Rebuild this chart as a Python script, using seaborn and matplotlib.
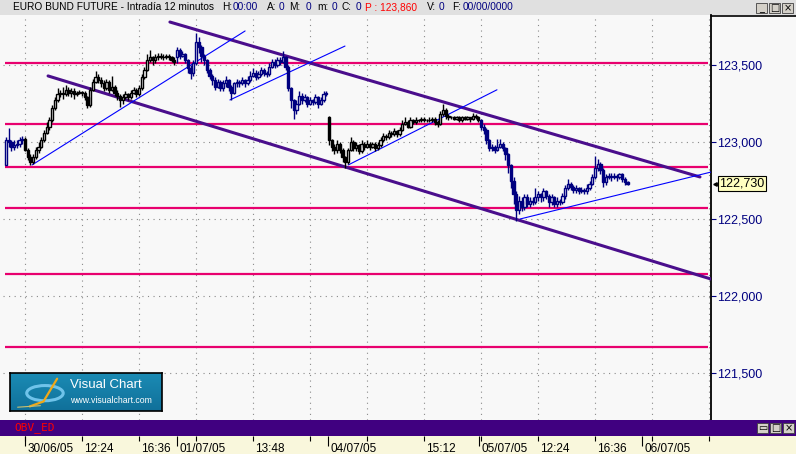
import numpy as np
import pandas as pd
import matplotlib
matplotlib.use("Agg")
import matplotlib.pyplot as plt
import matplotlib.transforms as mtransforms
from matplotlib.patches import Rectangle, Ellipse
from matplotlib.lines import Line2D
import seaborn as sns

# ---------------- data ----------------
days = ["29/06/05", "30/06/05", "01/07/05", "04/07/05", "05/07/05"]
day_first_bar = [-7, 0, 56, 112, 168]
day_opens = [122.85, 123.02, 123.55, 123.16, 123.14]

close_2906 = [123.01, 123.00, 122.97, 122.98, 122.99, 123.01, 123.02]
high_2906 = [123.03, 123.09, 123.01, 123.01, 123.01, 123.03, 123.04]
low_2906 = [122.85, 122.97, 122.94, 122.95, 122.96, 122.97, 122.99]

close_3006 = [122.95, 122.90, 122.87, 122.90, 122.95, 122.97, 123.01, 123.06, 123.10, 123.14,
              123.22, 123.27, 123.31, 123.32, 123.31, 123.34, 123.32, 123.33, 123.31, 123.32,
              123.32, 123.32, 123.29, 123.24, 123.34, 123.39, 123.42, 123.40, 123.38, 123.35,
              123.39, 123.34, 123.36, 123.32, 123.30, 123.27, 123.29, 123.31, 123.29, 123.32,
              123.34, 123.31, 123.35, 123.42, 123.47, 123.53, 123.55, 123.53, 123.55, 123.56,
              123.55, 123.55, 123.56, 123.55, 123.53, 123.52]
high_3006 = [123.03, 122.96, 122.92, 122.92, 122.97, 123.00, 123.03, 123.08, 123.13, 123.16,
             123.24, 123.29, 123.35, 123.34, 123.36, 123.37, 123.36, 123.35, 123.35, 123.33,
             123.34, 123.33, 123.33, 123.30, 123.36, 123.41, 123.46, 123.44, 123.42, 123.40,
             123.41, 123.40, 123.43, 123.37, 123.34, 123.31, 123.31, 123.33, 123.32, 123.34,
             123.36, 123.35, 123.37, 123.44, 123.49, 123.57, 123.60, 123.56, 123.57, 123.58,
             123.58, 123.57, 123.57, 123.57, 123.56, 123.55]
low_3006 = [122.94, 122.88, 122.85, 122.86, 122.89, 122.93, 122.96, 123.00, 123.05, 123.08,
            123.13, 123.21, 123.26, 123.29, 123.28, 123.30, 123.30, 123.29, 123.28, 123.30,
            123.31, 123.30, 123.27, 123.22, 123.23, 123.33, 123.38, 123.38, 123.36, 123.33,
            123.34, 123.32, 123.33, 123.30, 123.27, 123.23, 123.25, 123.28, 123.27, 123.28,
            123.31, 123.29, 123.30, 123.34, 123.41, 123.46, 123.52, 123.50, 123.51, 123.53,
            123.54, 123.53, 123.54, 123.53, 123.52, 123.50]

close_0107 = [123.60, 123.56, 123.57, 123.53, 123.48, 123.45, 123.51, 123.65, 123.62, 123.56,
              123.53, 123.47, 123.43, 123.40, 123.36, 123.39, 123.35, 123.38, 123.40, 123.36,
              123.32, 123.38, 123.39, 123.38, 123.40, 123.38, 123.40, 123.43, 123.45, 123.42,
              123.44, 123.47, 123.45, 123.44, 123.49, 123.52, 123.50, 123.53, 123.52, 123.55,
              123.49, 123.35, 123.27, 123.21, 123.25, 123.30, 123.27, 123.29, 123.25, 123.27,
              123.26, 123.29, 123.25, 123.27, 123.31, 123.32]
high_0107 = [123.62, 123.61, 123.59, 123.58, 123.54, 123.50, 123.53, 123.71, 123.68, 123.63,
             123.57, 123.54, 123.48, 123.44, 123.42, 123.41, 123.40, 123.40, 123.43, 123.41,
             123.37, 123.39, 123.41, 123.40, 123.42, 123.41, 123.43, 123.46, 123.48, 123.47,
             123.46, 123.49, 123.48, 123.46, 123.51, 123.54, 123.54, 123.55, 123.55, 123.59,
             123.56, 123.50, 123.36, 123.28, 123.27, 123.33, 123.32, 123.31, 123.30, 123.29,
             123.28, 123.31, 123.30, 123.29, 123.33, 123.33]
low_0107 = [123.51, 123.54, 123.55, 123.51, 123.45, 123.41, 123.43, 123.50, 123.58, 123.52,
            123.50, 123.45, 123.41, 123.37, 123.34, 123.35, 123.33, 123.33, 123.36, 123.33,
            123.27, 123.31, 123.36, 123.36, 123.37, 123.36, 123.37, 123.39, 123.42, 123.40,
            123.41, 123.43, 123.43, 123.42, 123.43, 123.48, 123.48, 123.49, 123.50, 123.51,
            123.47, 123.33, 123.22, 123.15, 123.18, 123.24, 123.25, 123.26, 123.23, 123.24,
            123.24, 123.25, 123.22, 123.24, 123.26, 123.30]

close_0407 = [123.01, 122.97, 122.95, 122.99, 122.95, 122.90, 122.87, 122.95, 123.00, 122.96,
              122.98, 122.94, 122.99, 122.97, 122.99, 122.97, 122.99, 122.96, 122.98, 123.01,
              123.04, 123.03, 123.06, 123.05, 123.07, 123.05, 123.08, 123.12, 123.13, 123.10,
              123.14, 123.13, 123.14, 123.14, 123.15, 123.14, 123.14, 123.14, 123.15, 123.13,
              123.12, 123.18, 123.21, 123.17, 123.16, 123.16, 123.15, 123.16, 123.14, 123.16,
              123.15, 123.16, 123.15, 123.17, 123.16, 123.14]
high_0407 = [123.17, 123.02, 122.99, 123.01, 123.00, 122.96, 122.91, 122.96, 123.03, 123.01,
             123.00, 122.99, 123.01, 123.00, 123.01, 123.00, 123.00, 123.00, 123.00, 123.03,
             123.06, 123.05, 123.08, 123.07, 123.09, 123.08, 123.10, 123.14, 123.16, 123.14,
             123.16, 123.15, 123.16, 123.15, 123.16, 123.16, 123.15, 123.16, 123.16, 123.16,
             123.14, 123.20, 123.25, 123.22, 123.18, 123.17, 123.17, 123.17, 123.17, 123.17,
             123.17, 123.17, 123.16, 123.19, 123.18, 123.17]
low_0407 = [122.98, 122.94, 122.92, 122.93, 122.93, 122.87, 122.83, 122.86, 122.94, 122.94,
            122.94, 122.92, 122.93, 122.95, 122.96, 122.95, 122.96, 122.94, 122.95, 122.97,
            123.00, 123.01, 123.02, 123.03, 123.04, 123.03, 123.04, 123.07, 123.11, 123.09,
            123.09, 123.12, 123.12, 123.13, 123.13, 123.13, 123.13, 123.13, 123.13, 123.11,
            123.10, 123.11, 123.17, 123.15, 123.14, 123.15, 123.14, 123.14, 123.13, 123.13,
            123.14, 123.14, 123.13, 123.14, 123.15, 123.13]

close_0507 = [123.10, 123.08, 123.01, 122.96, 122.97, 122.95, 122.97, 122.99, 122.96, 122.92,
              122.85, 122.75, 122.66, 122.56, 122.62, 122.58, 122.64, 122.60, 122.62, 122.61,
              122.64, 122.66, 122.64, 122.68, 122.65, 122.61, 122.64, 122.60, 122.62, 122.61,
              122.65, 122.70, 122.73, 122.71, 122.69, 122.70, 122.68, 122.69, 122.68, 122.70,
              122.73, 122.77, 122.83, 122.86, 122.82, 122.74, 122.77, 122.78, 122.77, 122.78,
              122.77, 122.79, 122.76, 122.74, 122.73]
high_0507 = [123.15, 123.12, 123.09, 123.02, 122.99, 122.98, 123.02, 123.02, 123.00, 122.97,
             122.93, 122.86, 122.77, 122.68, 122.65, 122.64, 122.66, 122.66, 122.64, 122.64,
             122.70, 122.68, 122.67, 122.70, 122.69, 122.66, 122.66, 122.65, 122.64, 122.63,
             122.67, 122.72, 122.76, 122.74, 122.72, 122.72, 122.71, 122.71, 122.70, 122.73,
             122.75, 122.79, 122.91, 122.89, 122.87, 122.83, 122.79, 122.80, 122.80, 122.80,
             122.79, 122.80, 122.80, 122.77, 122.75]
low_0507 = [123.08, 123.05, 122.99, 122.94, 122.94, 122.93, 122.94, 122.96, 122.94, 122.88,
            122.80, 122.70, 122.60, 122.49, 122.53, 122.55, 122.56, 122.58, 122.58, 122.59,
            122.60, 122.62, 122.61, 122.62, 122.63, 122.58, 122.59, 122.58, 122.58, 122.59,
            122.60, 122.63, 122.69, 122.69, 122.67, 122.67, 122.66, 122.67, 122.66, 122.66,
            122.69, 122.72, 122.76, 122.81, 122.79, 122.71, 122.72, 122.76, 122.75, 122.76,
            122.75, 122.76, 122.74, 122.72, 122.72]

closes = [close_2906, close_3006, close_0107, close_0407, close_0507]
highs = [high_2906, high_3006, high_0107, high_0407, high_0507]
lows = [low_2906, low_3006, low_0107, low_0407, low_0507]

# horizontal support / resistance levels (magenta)
levels = [123.51, 123.12, 122.84, 122.57, 122.14, 121.67]

# drawn trend lines: (bar start, price start, bar end, price end)
channel_lines = [(53.4, 123.779, 248.7, 122.773),
                 (8.5, 123.429, 252.8, 122.110)]
trend_lines = [(2.6, 122.851, 81.1, 123.721),
               (75.5, 123.273, 117.9, 123.623),
               (119.1, 122.851, 173.9, 123.339),
               (182.4, 122.500, 252.8, 122.805)]

price_ticks = [121.5, 122.0, 122.5, 123.0, 123.5]
price_tick_labels = ["121,500", "122,000", "122,500", "123,000", "123,500"]

session_bars = [0, 56, 111.6, 167.3, 227.3]
session_labels = ["30/06/05", "01/07/05", "04/07/05", "05/07/05", "06/07/05"]
time_bars = [21, 42, 84, 147, 189, 210]
time_labels = ["12:24", "16:36", "13:48", "15:12", "12:24", "16:36"]
grid_bars = [0, 21, 42, 63, 84, 105, 126, 147, 168, 189, 210, 231, 252]

title_parts = [("EURO BUND FUTURE - Intradía 12 minutos", "black", 13),
               ("H:", "black", 222), ("00:00", "navy", 233),
               ("A:", "black", 267), ("0", "navy", 279),
               ("M:", "black", 289), ("0", "navy", 306),
               ("m:", "black", 317), ("0", "navy", 332),
               ("C:", "black", 342), ("0", "navy", 356),
               ("P : 123,860", "red", 365),
               ("V:", "black", 427), ("0", "navy", 439),
               ("F:", "black", 452), ("00/00/0000", "navy", 463)]

# ---------------- layout ----------------
W, H = 796, 454
PXB = 2.714          # pixels per bar
X0 = 25              # pixel of bar 0
Y_REF, P_REF, PPU = 142, 123.0, 154.0   # pixel row of 123.000 and px per point

BG = "#f8f8f8"
NAVY = "#000080"
MAGENTA = "#e8006e"
PURPLE = "#4a0e8c"
day_colors = [NAVY, "black", NAVY, "black", NAVY]


def box(x0, y0, x1, y1):
    return [x0 / W, 1 - y1 / H, (x1 - x0) / W, (y1 - y0) / H]


def bar_of(px):
    return (px - X0) / PXB


def price_of(py):
    return P_REF + (Y_REF - py) / PPU


sns.set_theme(style="white")
plt.rcParams["font.family"] = ["Liberation Sans", "DejaVu Sans"]

fig = plt.figure(figsize=(W / 100, H / 100), dpi=100, facecolor=BG)
ax = fig.add_axes(box(3, 15, 711, 420), facecolor=BG)
ax.set_xlim(bar_of(3), bar_of(711))
ax.set_ylim(price_of(420), price_of(15))

# candles table
frames = []
for first, op, cl, hi, lo, col in zip(day_first_bar, day_opens, closes, highs, lows, day_colors):
    frames.append(pd.DataFrame({"bar": np.arange(first, first + len(cl)),
                                "open": [op] + cl[:-1], "close": cl,
                                "high": hi, "low": lo, "color": col}))
bars = pd.concat(frames, ignore_index=True)

# grid
for b in grid_bars:
    ax.axvline(b, color="#8a8a8a", ls=(0, (1, 4)), lw=0.8, zorder=1)
for p in price_ticks:
    ax.axhline(p, color="#8a8a8a", ls=(0, (1, 4)), lw=0.8, zorder=1)

# magenta levels
ax.hlines(levels, bar_of(5), bar_of(708), colors=MAGENTA, lw=1.6, zorder=2)

# channel + trend lines
rows = []
for k, (b0, p0, b1, p1) in enumerate(channel_lines + trend_lines):
    rows += [{"line": k, "bar": b0, "price": p0}, {"line": k, "bar": b1, "price": p1}]
lines_df = pd.DataFrame(rows)
for k, g in lines_df.groupby("line"):
    is_channel = k < len(channel_lines)
    sns.lineplot(data=g, x="bar", y="price", ax=ax, estimator=None, sort=False,
                 color=PURPLE if is_channel else "#0000ff",
                 lw=2.2 if is_channel else 0.8, zorder=3 if is_channel else 4, legend=False)

# candles
ax.vlines(bars["bar"], bars["low"], bars["high"], colors=bars["color"], lw=1.0, zorder=5)
up = bars["close"] >= bars["open"]
body = (bars["close"] - bars["open"]).abs().clip(lower=0.004)
bottom = bars[["open", "close"]].min(axis=1)
ax.bar(bars["bar"][up], body[up], bottom=bottom[up], width=0.85, color=BG,
       edgecolor=bars["color"][up], lw=1.0, zorder=6)
ax.bar(bars["bar"][~up], body[~up], bottom=bottom[~up], width=0.85,
       color=bars["color"][~up], edgecolor=bars["color"][~up], lw=1.0, zorder=6)

ax.set_xlabel("")
ax.set_ylabel("")
ax.set_xticks([])
ax.yaxis.tick_right()
ax.set_yticks(price_ticks)
ax.set_yticklabels(price_tick_labels)
ax.tick_params(axis="y", direction="out", length=3.5, width=0.8, color=NAVY,
               labelcolor=NAVY, labelsize=9, pad=1, right=True, left=False)
for s in ["top", "left", "bottom"]:
    ax.spines[s].set_visible(False)
ax.spines["right"].set_color("black")
ax.spines["right"].set_linewidth(1.3)

# last price box
last = close_0507[-1]
tr = mtransforms.blended_transform_factory(fig.transFigure, ax.transData)
ax.text(719 / W, last, "122,730", transform=tr, ha="left", va="center", fontsize=9,
        color="black", clip_on=False, zorder=10,
        bbox=dict(boxstyle="square,pad=0.12", fc="#ffffc0", ec="black", lw=0.8))
ax.plot([714.5 / W], [last], transform=tr, marker="<", ms=2.5, color="black",
        clip_on=False, zorder=10)

# title bar
fig.add_artist(Rectangle((0, 1 - 15 / H), 1, 15 / H, transform=fig.transFigure,
                         fc="#e0e0e0", ec="none", zorder=0))
fig.add_artist(Line2D([711 / W, 1], [1 - 15.5 / H] * 2, transform=fig.transFigure,
                      color="black", lw=1.2))
for txt, col, xpx in title_parts:
    fig.text(xpx / W, 1 - 7.5 / H, txt, color=col, fontsize=7.3, ha="left", va="center")


def buttons(x_start, y_top, glyphs):
    for i, g in enumerate(glyphs):
        x = x_start + i * 13
        fig.add_artist(Rectangle((x / W, 1 - (y_top + 10) / H), 11 / W, 10 / H,
                                 transform=fig.transFigure, fc="#d4d0c8", ec="#404040", lw=0.6))
        fig.text((x + 5.5) / W, 1 - (y_top + 5) / H, g, fontsize=7, ha="center",
                 va="center", color="black", family=["DejaVu Sans"])


buttons(756, 3, ["_", "□", "×"])

# OBV strip
ax_obv = fig.add_axes(box(0, 420, W, 436), facecolor="#400080")
ax_obv.set_xticks([])
ax_obv.set_yticks([])
for s in ax_obv.spines.values():
    s.set_visible(False)
fig.text(14 / W, 1 - 428 / H, "OBV_ED", color="red", fontsize=8, ha="left", va="center",
         family=["DejaVu Sans Mono"])
buttons(757, 423, ["▭", "□", "×"])

# date axis
ax_d = fig.add_axes(box(0, 436, W, H), facecolor="#f9f7dc")
ax_d.set_xlim(bar_of(0), bar_of(W))
ax_d.set_ylim(0, 1)
ax_d.set_xticks([])
ax_d.set_yticks([])
for s in ax_d.spines.values():
    s.set_visible(False)
ax_d.vlines(grid_bars, 0.72, 1.0, color="black", lw=0.8)
ax_d.vlines(session_bars, 0.44, 1.0, color="black", lw=0.8)
off = mtransforms.ScaledTranslation(2.5 / 100, 0, fig.dpi_scale_trans)
for b, lab in zip(session_bars + time_bars, session_labels + time_labels):
    ax_d.text(b, 0.30, lab, fontsize=8.5, ha="left", va="center", color="black",
              transform=ax_d.transData + off)

# Visual Chart logo
ax_logo = fig.add_axes(box(10, 373, 162, 411))
grad = np.linspace(0, 1, 50).reshape(-1, 1)
ax_logo.imshow(grad, aspect="auto", extent=[0, 1, 0, 1], origin="upper",
               cmap=matplotlib.colors.LinearSegmentedColormap.from_list("vc", ["#1b8bb4", "#10709a"]))
ax_logo.add_patch(Ellipse((0.23, 0.47), 0.24, 0.40, fill=False, ec="#6fc3ea", lw=2.2))
ax_logo.plot([0.13, 0.22, 0.31], [0.12, 0.25, 0.85], color="#f0a818", lw=1.6)
ax_logo.plot([0.05, 0.20], [0.10, 0.14], color="#c8c070", lw=0.8)
ax_logo.text(0.395, 0.68, "Visual Chart", color="white", fontsize=9.5, ha="left", va="center")
ax_logo.text(0.395, 0.28, "www.visualchart.com", color="white", fontsize=6.3, ha="left", va="center")
ax_logo.set_xlim(0, 1)
ax_logo.set_ylim(0, 1)
ax_logo.set_xticks([])
ax_logo.set_yticks([])
for s in ax_logo.spines.values():
    s.set_color("black")
    s.set_linewidth(1.2)

fig.savefig("out.png", dpi=100, facecolor=fig.get_facecolor())
